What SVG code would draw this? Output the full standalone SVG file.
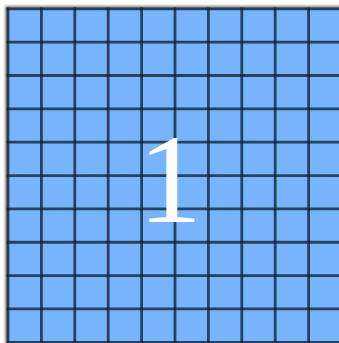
<svg xmlns="http://www.w3.org/2000/svg" width="339" height="343" viewBox="0 0 339 343">
  <defs>
    <filter id="soft" x="-5%" y="-5%" width="110%" height="110%">
      <feGaussianBlur stdDeviation="1.2"/>
    </filter>
    <style>
      .shadow { fill: #8a8a8a; filter: url(#soft); }
      .board { fill: #78b4fe; }
      .grid line { stroke: #142435; stroke-width: 2.8; stroke-opacity: 0.8; }
      .label { font-family: "Liberation Serif", "Times New Roman", serif; font-size: 128px; fill: #ffffff; text-anchor: middle; }
    </style>
  </defs>
  <rect x="0" y="0" width="339" height="343" fill="#ffffff"/>
  <rect class="shadow" x="5" y="5.8" width="345" height="350"/>
  <g id="board">
    <rect class="board" x="8" y="8.8" width="340" height="345"/>
  </g>
  <g id="grid" class="grid">
    <line x1="8" y1="7.4" x2="8" y2="343"/>
    <line x1="41.4" y1="7.4" x2="41.4" y2="343"/>
    <line x1="74.8" y1="7.4" x2="74.8" y2="343"/>
    <line x1="108.2" y1="7.4" x2="108.2" y2="343"/>
    <line x1="141.6" y1="7.4" x2="141.6" y2="343"/>
    <line x1="175" y1="7.4" x2="175" y2="343"/>
    <line x1="208.4" y1="7.4" x2="208.4" y2="343"/>
    <line x1="241.8" y1="7.4" x2="241.8" y2="343"/>
    <line x1="275.2" y1="7.4" x2="275.2" y2="343"/>
    <line x1="308.6" y1="7.4" x2="308.6" y2="343"/>
    <line x1="6.6" y1="8.8" x2="339" y2="8.8"/>
    <line x1="6.6" y1="42.15" x2="339" y2="42.15"/>
    <line x1="6.6" y1="75.5" x2="339" y2="75.5"/>
    <line x1="6.6" y1="108.85" x2="339" y2="108.85"/>
    <line x1="6.6" y1="142.2" x2="339" y2="142.2"/>
    <line x1="6.6" y1="175.55" x2="339" y2="175.55"/>
    <line x1="6.6" y1="208.9" x2="339" y2="208.9"/>
    <line x1="6.6" y1="242.25" x2="339" y2="242.25"/>
    <line x1="6.6" y1="275.6" x2="339" y2="275.6"/>
    <line x1="6.6" y1="308.95" x2="339" y2="308.95"/>
    <line x1="6.6" y1="342.3" x2="339" y2="342.3"/>
  </g>
  <g id="label">
    <text class="label" x="170" y="222">1</text>
  </g>
</svg>
